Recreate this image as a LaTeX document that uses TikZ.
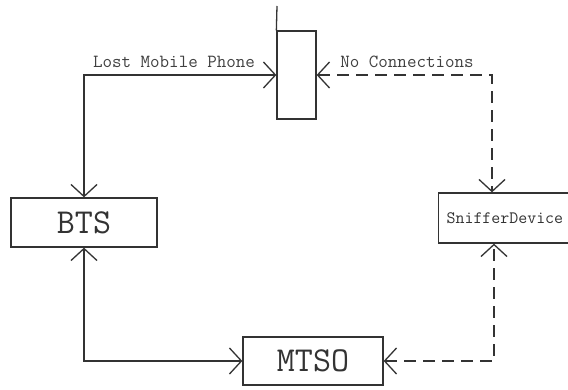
\documentclass[tikz,border=0pt]{standalone}
\usetikzlibrary{arrows.meta}
\begin{document}
\begin{tikzpicture}[x=1pt,y=-1pt,
  ln/.style={draw=black!80, line width=1.3pt},
  box/.style={ln, rectangle, fill=white, text=black!80, font=\ttfamily\fontsize{35}{35}\selectfont, inner sep=0pt},
  lbl/.style={text=black!75, font=\ttfamily\fontsize{18.5}{19}\selectfont, inner sep=0pt},
  >={Straight Barb[length=12pt,width=26pt]},
  dsh/.style={dash pattern=on 12pt off 7pt}]
\clip (0,0) rectangle (568,390);
\node[box, minimum width=146pt, minimum height=49pt] (bts) at (84,222.5) {BTS};
\node[box, minimum width=140pt, minimum height=48pt] (mtso) at (313,361) {MTSO};
\node[box, minimum width=39pt, minimum height=88pt] (phone) at (296.5,75) {};
\node[box, anchor=west, minimum height=50pt, inner xsep=8pt, text width=150pt, align=left, font=\ttfamily\fontsize{17.4}{18}\selectfont] (sniffer) at (438,218) {SnifferDevice};
\coordinate (ant) at (277,6);
\draw[ln] (phone.north west) -- (ant);
\draw[ln,<->] (bts.north) |- (phone.west);
\draw[ln,dsh,<->] (phone.east) -| ([xshift=54pt]sniffer.north west);
\draw[ln,<->] (bts.south) |- (mtso.west);
\draw[ln,dsh,<->] (mtso.east) -| ([xshift=56pt]sniffer.south west);
\node[lbl] (l1) at (174,62) {Lost Mobile Phone};
\node[lbl] (l2) at (407,62) {No Connections};
\end{tikzpicture}
\end{document}
